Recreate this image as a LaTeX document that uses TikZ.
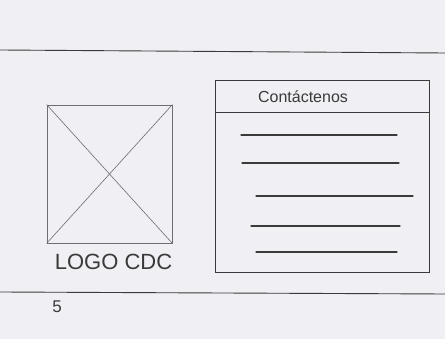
\documentclass[tikz,border=0pt]{standalone}
\usepackage{fontspec}
\setmainfont{Liberation Sans}
\usetikzlibrary{positioning}
\definecolor{paperGrey}{HTML}{EFEFF4}
\definecolor{penGrey}{HTML}{3A3A3A}
\definecolor{pencilGrey}{HTML}{6E6E72}

\begin{document}
\begin{tikzpicture}[x=1pt, y=-1pt,
   rule/.style={draw=penGrey, line width=0.9pt},
   field/.style={draw=penGrey, line width=1.1pt, line cap=round},
   box/.style={rectangle, draw=pencilGrey, line width=0.8pt, inner sep=0pt},
   lbl/.style={font=\fontsize{16}{16}\selectfont, text=penGrey}]

% paper
\fill[paperGrey] (0,0) rectangle (445,339);
\useasboundingbox (0,0) rectangle (445,339);

% header / footer rules
\draw[rule] (0,50) -- (445,53);
\draw[rule] (0,292) -- (445,294);

% logo placeholder
\node[box, minimum width=125pt, minimum height=138pt] (logo) at (109.5,174) {};
\draw[pencilGrey, line width=0.6pt] (logo.north west) -- (logo.south east);
\draw[pencilGrey, line width=0.6pt] (logo.north east) -- (logo.south west);
\node[lbl, font=\fontsize{22}{22}\selectfont, below=7pt of logo, xshift=4pt] (logoname) {LOGO CDC};

% contact form
\node[box, draw=penGrey, line width=1pt, minimum width=214pt, minimum height=192pt]
     (contact) at (322,177) {};
\draw[penGrey, line width=1pt] (215,113) -- (429,113);
\node[lbl] (title) at (303,97) {Contáctenos};
\draw[field] (241,135) -- (397,135);
\draw[field] (242,163) -- (399,163);
\draw[field] (256,196) -- (413,196);
\draw[field] (251,226) -- (400,226);
\draw[field] (256,252) -- (397,252);

\node[lbl, font=\fontsize{17}{17}\selectfont] (page) at (57,307) {5};
\end{tikzpicture}
\end{document}
